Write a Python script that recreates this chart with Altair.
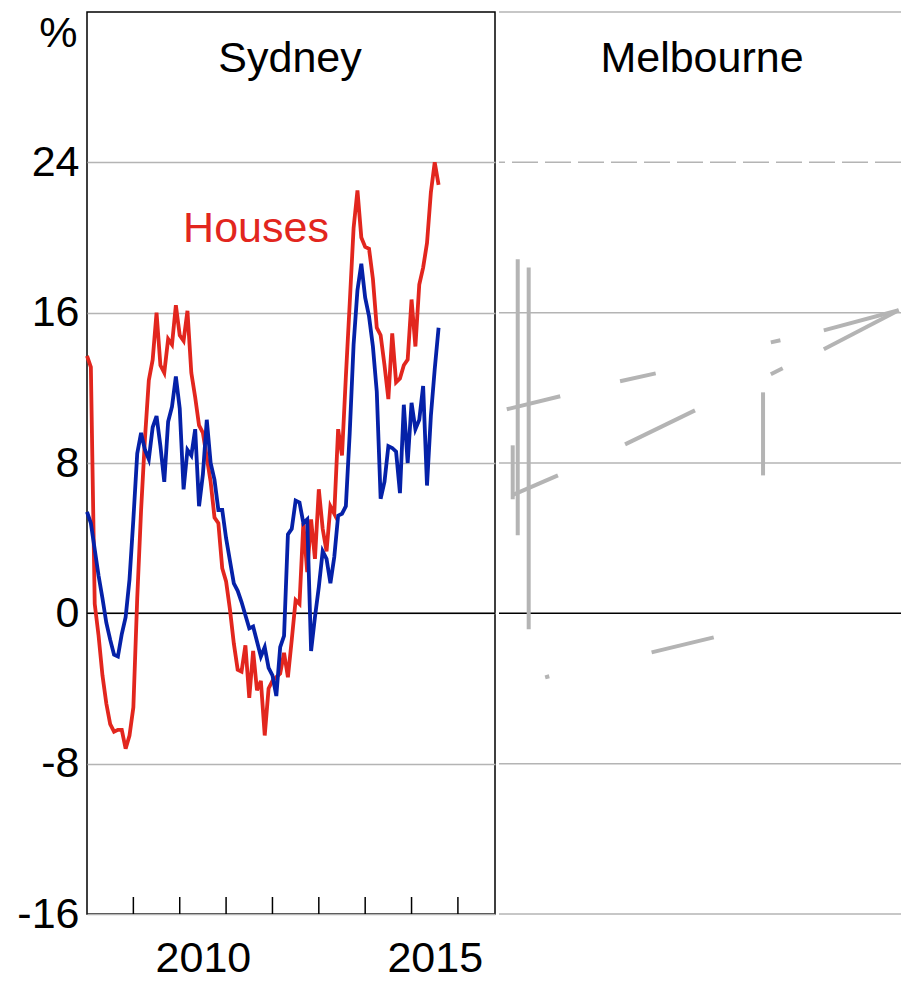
import altair as alt
import pandas as pd

# ---------------- data ----------------
# monthly observations, Jan 2008 .. Aug 2015 (year-ended growth, %)
start_year = 2008
houses = [13.7, 13.1, 0.5, -1.2, -3.3, -4.8, -5.9, -6.3, -6.2, -6.2, -7.2, -6.5,
          -5.0, 0.8, 5.5, 9.3, 12.4, 13.5, 16.0, 13.2, 12.8, 14.6, 14.3, 16.4,
          14.8, 14.5, 16.1, 12.8, 11.5, 10.0, 9.6, 8.3, 7.0, 5.1, 4.8, 2.4,
          1.7, 0.2, -1.6, -3.0, -3.1, -1.7, -4.5, -2.0, -4.1, -3.6, -6.5, -4.0,
          -3.6, -3.4, -3.2, -2.1, -3.4, -1.4, 0.7, 0.5, 4.8, 2.2, 5.0, 2.9,
          6.6, 4.5, 3.3, 5.7, 5.3, 9.8, 8.4, 12.6, 16.5, 20.5, 22.5, 20.0,
          19.5, 19.4, 17.8, 15.2, 14.8, 13.2, 11.4, 14.9, 12.3, 12.5, 13.2, 13.5,
          16.7, 14.2, 17.5, 18.4, 19.7, 22.4, 24.0, 22.8]
units = [5.4, 4.8, 3.4, 2.0, 0.8, -0.5, -1.4, -2.2, -2.3, -1.1, -0.2, 1.8,
         5.0, 8.5, 9.6, 8.7, 8.2, 9.9, 10.5, 8.9, 7.0, 10.2, 11.0, 12.6,
         10.9, 6.6, 8.7, 8.4, 9.8, 5.7, 7.4, 10.3, 8.0, 7.1, 5.5, 5.5,
         4.0, 2.8, 1.6, 1.2, 0.6, -0.1, -0.8, -0.7, -1.5, -2.3, -1.8, -2.9,
         -3.3, -4.4, -1.8, -1.2, 4.2, 4.5, 6.0, 5.9, 4.8, 5.0, -2.0, -0.2,
         1.4, 3.3, 2.9, 1.6, 3.0, 5.2, 5.3, 5.7, 9.6, 14.3, 17.2, 18.6,
         16.8, 15.8, 14.2, 11.8, 6.1, 7.0, 8.9, 8.8, 8.6, 6.4, 11.1, 8.0,
         11.2, 9.8, 10.3, 12.1, 6.8, 10.5, 13.0, 15.2]
series_names = ["Houses", "Units"]

y_ticks = [-16, -8, 0, 8, 16, 24]
grid_values = [32, 16, 8, -8, -16]
dashed_grid = [24]
year_ticks = [2009, 2010, 2011, 2012, 2013, 2014, 2015, 2016]
year_labels = [2010.5, 2015.5]
panel_titles = ["Sydney", "Melbourne"]
series_label = ["Houses"]

# grey fragments visible in the Melbourne panel (year, %)
frag_x1 = [2008.41, 2008.65, 2008.17, 2010.65, 2010.76, 2008.28, 2008.30, 2013.78,
           2013.95, 2013.95, 2015.11, 2015.11, 2011.34, 2009.01]
frag_y1 = [18.84, 18.41, 10.86, 12.35, 8.99, 6.28, 8.94, 11.76,
           14.42, 12.72, 15.06, 14.05, -2.08, -3.41]
frag_x2 = [2008.41, 2008.65, 2009.34, 2011.43, 2012.29, 2009.29, 2008.30, 2013.78,
           2014.16, 2014.21, 2016.75, 2016.75, 2012.70, 2009.10]
frag_y2 = [4.15, -0.85, 11.55, 12.77, 10.80, 7.34, 6.07, 7.34,
           14.53, 13.04, 16.13, 16.13, -1.28, -3.35]

# ---------------- styling ----------------
FONT = "Liberation Sans"
FS = 43
RED = "#e2261e"
BLUE = "#0521a8"
GRID = "#b4b4b4"
W, H = 408, 902
W_MEL = 402
X_DOMAIN = [2008.0, 2016.8]
Y_DOMAIN = [-16, 32]

n = len(houses)
years = [start_year + i / 12 for i in range(n)]
df = pd.DataFrame({"year": years * 2,
                   "value": houses + units,
                   "series": [series_names[0]] * n + [series_names[1]] * n})

x_scale = alt.Scale(domain=X_DOMAIN, nice=False, zero=False)
y_scale = alt.Scale(domain=Y_DOMAIN, nice=False, zero=False)

x_axis = alt.Axis(values=year_labels, labelExpr="floor(datum.value)",
                  ticks=False, domain=False, grid=False,
                  labelFont=FONT, labelFontSize=FS, labelColor="black",
                  labelPadding=23, title=None)
y_axis = alt.Axis(values=y_ticks, grid=True, gridColor=GRID, gridWidth=1.5,
                  ticks=False, domain=False,
                  labelExpr="datum.value < 0 ? '-' + abs(datum.value) : '' + datum.value",
                  labelFont=FONT, labelFontSize=FS, labelColor="black",
                  labelPadding=8,
                  title="%", titleAngle=0, titleAlign="right",
                  titleBaseline="middle", titleX=-10, titleY=21,
                  titleFont=FONT, titleFontSize=FS,
                  titleFontWeight="normal", titleColor="black")

# ---------------- Sydney panel ----------------
zero_df = pd.DataFrame({"year": [2012.0], "value": [0]})
zero_rule = alt.Chart(zero_df).mark_rule(color="black", strokeWidth=1.5).encode(
    y=alt.Y("value:Q", scale=y_scale, axis=y_axis))

tick_df = pd.DataFrame({"year": year_ticks})
ticks = alt.Chart(tick_df).mark_rule(color="black", strokeWidth=1.5).encode(
    x=alt.X("year:Q", scale=x_scale, axis=x_axis),
    y=alt.value(H), y2=alt.value(H - 17))

lines = alt.Chart(df).mark_line(strokeWidth=3.8).encode(
    x=alt.X("year:Q", scale=x_scale, axis=x_axis),
    y=alt.Y("value:Q", scale=y_scale, axis=y_axis),
    color=alt.Color("series:N", scale=alt.Scale(domain=series_names, range=[RED, BLUE]),
                    legend=None),
    order=alt.Order("series:N"),
)

syd_title = alt.Chart(pd.DataFrame({"t": [panel_titles[0]]})).mark_text(
    font=FONT, fontSize=FS, color="black", align="center", baseline="alphabetic"
).encode(text="t:N", x=alt.value(203), y=alt.value(60))

houses_label = alt.Chart(pd.DataFrame({"t": series_label})).mark_text(
    font=FONT, fontSize=FS, color=RED, align="center", baseline="alphabetic"
).encode(text="t:N", x=alt.value(169), y=alt.value(230))

sydney = alt.layer(zero_rule, ticks, lines, syd_title, houses_label).properties(
    width=W, height=H)

# ---------------- Melbourne panel ----------------
mel_grid = alt.Chart(pd.DataFrame({"value": grid_values})).mark_rule(
    color=GRID, strokeWidth=1.5).encode(y=alt.Y("value:Q", scale=y_scale, axis=None))
mel_dash = alt.Chart(pd.DataFrame({"value": dashed_grid})).mark_rule(
    color=GRID, strokeWidth=1.5, strokeDash=[26, 7]).encode(
    y=alt.Y("value:Q", scale=y_scale, axis=None))
mel_zero = alt.Chart(pd.DataFrame({"value": [0]})).mark_rule(
    color="black", strokeWidth=1.5).encode(y=alt.Y("value:Q", scale=y_scale, axis=None))
frag_df = pd.DataFrame({"x1": frag_x1, "y1": frag_y1, "x2": frag_x2, "y2": frag_y2})
frags = alt.Chart(frag_df).mark_rule(color=GRID, strokeWidth=4).encode(
    x=alt.X("x1:Q", scale=x_scale, axis=None), x2="x2:Q",
    y=alt.Y("y1:Q", scale=y_scale, axis=None), y2="y2:Q")
mel_title = alt.Chart(pd.DataFrame({"t": [panel_titles[1]]})).mark_text(
    font=FONT, fontSize=FS, color="black", align="center", baseline="alphabetic"
).encode(text="t:N", x=alt.value(203), y=alt.value(60))

melbourne = alt.layer(mel_grid, mel_dash, mel_zero, frags, mel_title).properties(
    width=W_MEL, height=H, view=alt.ViewBackground(stroke="transparent"))

chart = alt.hconcat(sydney, melbourne, spacing=0).properties(
    padding={"left": 8, "top": 2, "right": 0, "bottom": 0}
).configure_view(stroke="black", strokeWidth=1.5)

chart.save("out.html", embed_options={"renderer": "svg", "actions": False})
